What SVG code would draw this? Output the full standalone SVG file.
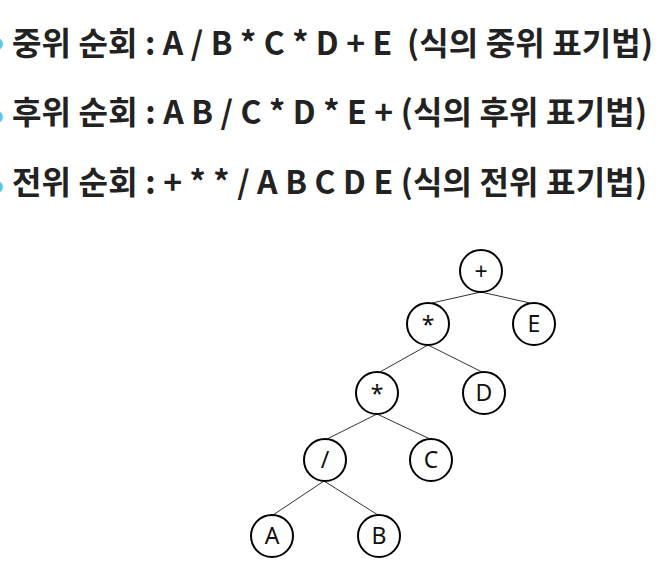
<svg xmlns="http://www.w3.org/2000/svg" width="663" height="574" viewBox="0 0 663 574">
<style>
.h{font-family:"Noto Sans CJK KR","Noto Sans",sans-serif;font-weight:bold;font-size:32px;fill:#222;white-space:pre}
.n circle{fill:#fff;stroke:#000;stroke-width:2}
.n text{font-family:"Noto Sans","Open Sans",sans-serif;font-size:23px;fill:#111;text-anchor:middle}
.c line{stroke:#333;stroke-width:1}
.b{fill:#5bc8e8}
</style>
<rect width="663" height="574" fill="#fff"/>
<circle class="b" cx="-3" cy="44" r="6"/>
<circle class="b" cx="-3" cy="117" r="6"/>
<circle class="b" cx="-3" cy="187" r="6"/>
<text class="h" x="12" y="55" xml:space="preserve" textLength="641" lengthAdjust="spacing">중위 순회 : A / B * C * D + E  (식의 중위 표기법)</text>
<text class="h" x="12" y="124" xml:space="preserve" textLength="635" lengthAdjust="spacing">후위 순회 : A B / C * D * E + (식의 후위 표기법)</text>
<text class="h" x="12" y="194" xml:space="preserve" textLength="635" lengthAdjust="spacing">전위 순회 : + * * / A B C D E (식의 전위 표기법)</text>
<g class="c" id="connectors">
<line x1="481" y1="292" x2="432" y2="303"/>
<line x1="481" y1="292" x2="530" y2="303"/>
<line x1="428" y1="345" x2="380" y2="372"/>
<line x1="428" y1="345" x2="482" y2="372"/>
<line x1="377" y1="414" x2="327" y2="439"/>
<line x1="377" y1="414" x2="430" y2="439"/>
<line x1="324" y1="481" x2="273" y2="515"/>
<line x1="324" y1="481" x2="378" y2="515"/>
</g>
<g class="n" id="n-plus"><circle cx="481" cy="271" r="21"/><text x="481" y="280">+</text></g>
<g class="n" id="n-star1"><circle cx="428" cy="324" r="21"/><text x="428" y="333">*</text></g>
<g class="n" id="n-E"><circle cx="534" cy="324" r="21"/><text x="534" y="332">E</text></g>
<g class="n" id="n-star2"><circle cx="377" cy="393" r="21"/><text x="377" y="402">*</text></g>
<g class="n" id="n-D"><circle cx="484" cy="393" r="21"/><text x="484" y="401">D</text></g>
<g class="n" id="n-slash"><circle cx="325" cy="460" r="21"/><text x="325" y="468">/</text></g>
<g class="n" id="n-C"><circle cx="431" cy="460" r="21"/><text x="431" y="468">C</text></g>
<g class="n" id="n-A"><circle cx="272" cy="536" r="21"/><text x="272" y="544">A</text></g>
<g class="n" id="n-B"><circle cx="379" cy="536" r="21"/><text x="379" y="544">B</text></g>
</svg>
